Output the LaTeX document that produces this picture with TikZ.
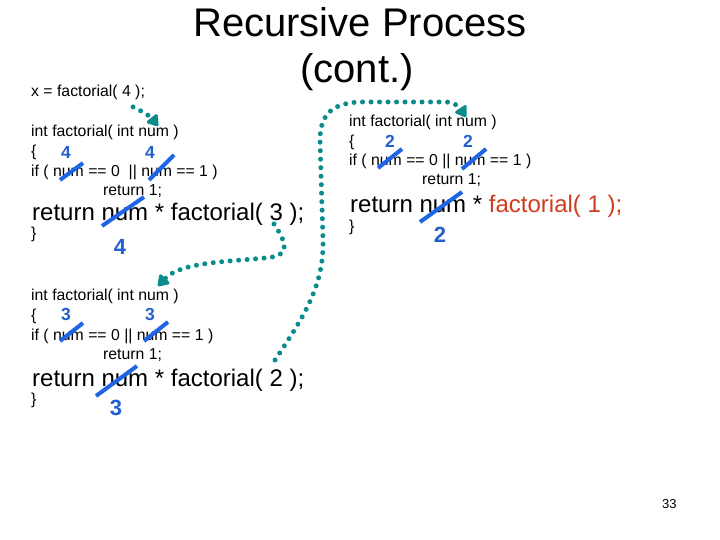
\documentclass[tikz,border=0pt]{standalone}
\usepackage{fontspec}
\setmainfont{Liberation Sans}
\usetikzlibrary{arrows.meta}
\definecolor{teal2}{RGB}{10,140,140}
\definecolor{numblue}{RGB}{35,95,205}
\definecolor{strikeblue}{RGB}{30,100,230}
\definecolor{callred}{RGB}{210,60,30}
\tikzset{
  code/.style={anchor=base west, inner sep=0pt, font=\fontsize{15.8}{18}\selectfont},
  bigcode/.style={anchor=base west, inner sep=0pt, font=\fontsize{24}{28}\selectfont},
  title/.style={anchor=base, inner sep=0pt, font=\fontsize{40}{46}\selectfont},
  val/.style={inner sep=0pt, text=numblue, font=\bfseries\fontsize{17.5}{20}\selectfont},
  valbig/.style={inner sep=0pt, text=numblue, font=\bfseries\fontsize{22}{25}\selectfont},
  strike/.style={draw=strikeblue, line width=4pt},
  flow/.style={draw=teal2, line width=5pt, line cap=round, dash pattern=on 0pt off 8.5pt,
    -{Triangle[width=15pt,length=12pt,round]}, fill=none},
}
\begin{document}
\begin{tikzpicture}[x=1pt,y=-1pt]
\useasboundingbox[fill=white] (0,0) rectangle (720,540);
% title
\node[title] (t1) at (360,37) {Recursive Process};
\node[title] (t2) at (357,83) {(cont.)};
\node[code] (call) at (31,97) {x = factorial( 4 );};
% block 1
\node[code] (a1) at (31,137) {int factorial( int num )};
\node[code] (a2) at (31,157) {\{};
\node[code] (a3) at (31,176.5) {if ( num == 0 \ || num == 1 )};
\node[code] (a4) at (103,196) {return 1;};
\node[bigcode] (a5) at (32,221) {return num * factorial( 3 );};
\node[code] (a6) at (31,239) {\}};
\node[val] (a7) at (66,152) {4};
\node[val] (a8) at (150,152) {4};
\node[valbig] (a9) at (120,247) {4};
\draw[strike] (60,180) -- (83,163);
\draw[strike] (149,180) -- (174,155);
\draw[strike] (102,226) -- (144,197);
% block 2
\node[code] (b1) at (31,300.5) {int factorial( int num )};
\node[code] (b2) at (31,320) {\{};
\node[code] (b3) at (31,340) {if ( num == 0 || num == 1 )};
\node[code] (b4) at (103,359) {return 1;};
\node[bigcode] (b5) at (32,386) {return num * factorial( 2 );};
\node[code] (b6) at (31,404) {\}};
\node[val] (b7) at (66,314) {3};
\node[val] (b8) at (150,314) {3};
\node[valbig] (b9) at (116,408) {3};
\draw[strike] (60,341) -- (83,323);
\draw[strike] (144,341) -- (168,322);
\draw[strike] (96,396) -- (137,366);
% block 3
\node[code] (c1) at (349,127) {int factorial( int num )};
\node[code] (c2) at (349,146.5) {\{};
\node[code] (c3) at (349,166) {if ( num == 0 || num == 1 )};
\node[code] (c4) at (422,185) {return 1;};
\node[bigcode] (c5) at (350,212) {return num * \textcolor{callred}{factorial( 1 );}};
\node[code] (c6) at (349,232) {\}};
\node[val] (c7) at (390,141) {2};
\node[val] (c8) at (468,141) {2};
\node[valbig] (c9) at (440,235) {2};
\draw[strike] (378,168) -- (402,149);
\draw[strike] (462,169) -- (486,149);
\draw[strike] (420,222) -- (462,192);
% page number
\node[code, font=\fontsize{13}{15}\selectfont] (pg) at (662,508) {33};
% connectors
\coordinate (s1) at (133,107);
\coordinate (e1) at (158,126);
\coordinate (s2) at (274,224);
\coordinate (e2) at (158,286);
\coordinate (s3) at (275,360);
\coordinate (e3) at (466,117);
\draw[flow] (s1) .. controls (140,110) and (150,116) .. (e1);
\draw[flow] (s2) .. controls (290,248) and (288,256) .. (265,258)
  .. controls (220,262) and (180,263) .. (e2);
\draw[flow] (s3) .. controls (305,315) and (324,285) .. (323,240)
  -- (320,140) .. controls (320,112) and (335,103) .. (360,102)
  -- (446,102) .. controls (455,102) and (460,108) .. (e3);
\end{tikzpicture}
\end{document}
